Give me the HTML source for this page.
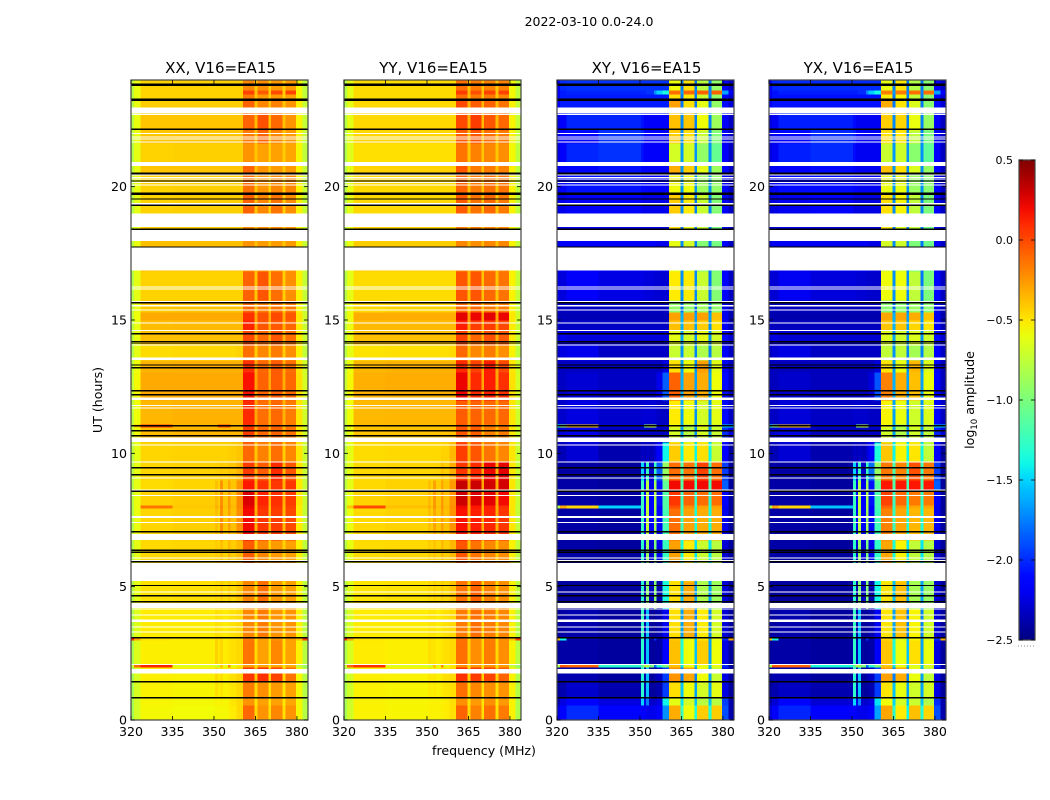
<!DOCTYPE html>
<html lang="en">
<head>
<meta charset="utf-8">
<title>2022-03-10 0.0-24.0</title>
<style>
html,body{margin:0;padding:0;background:#fff;width:1050px;height:800px;overflow:hidden}
svg{display:block}
text{font-family:"DejaVu Sans","Liberation Sans",sans-serif;fill:#000}
</style>
</head>
<body>
<svg id="chart" xmlns="http://www.w3.org/2000/svg" width="1050" height="800" viewBox="0 0 1050 800">
<text x="589" y="26" font-size="12.5" text-anchor="middle">2022-03-10 0.0-24.0</text>
<text x="102" y="400" font-size="12.6" text-anchor="middle" transform="rotate(-90 102 400)">UT (hours)</text>
<text x="484" y="755" font-size="12.6" text-anchor="middle">frequency (MHz)</text>
<text x="974" y="400" font-size="12.6" text-anchor="middle" transform="rotate(-90 974 400)">log<tspan font-size="8.5" dy="3">10</tspan><tspan dy="-3"> amplitude</tspan></text>
<defs><linearGradient id="jetGradient" x1="0" y1="1" x2="0" y2="0"></linearGradient></defs>
</svg>
<script>
const panelTitles = ["XX, V16=EA15","YY, V16=EA15","XY, V16=EA15","YX, V16=EA15"];
const freqTicks = [320,335,350,365,380];
const hourTicks = [0,5,10,15,20];
const colorTicks = [-2.5,-2,-1.5,-1,-0.5,0,0.5];
const freqEdges = [320,321,323.5,335,350.4,351.4,352.2,353.2,355,356,358.2,360.5,364.7,365.7,369.7,370.6,374.8,375.9,379.7,382,384];
const timeEdges = [0,0.56,0.83,1.43,1.99,2.10,3.00,3.11,4.20,5.21,5.89,6.75,7.95,8.06,8.59,9.00,9.68,10.43,10.99,11.10,12.00,13.05,13.50,14.06,14.63,15.00,15.30,15.75,16.84,18.38,18.98,19.73,20.48,20.93,21.64,22.13,22.76,23.25,23.48,23.63,24];
const flaggedRanges = [[22.75,22.96],[22.68,22.72],[21.98,22.02],[21.85,21.89],[21.76,21.80],[21.66,21.70],[20.78,20.93],[20.41,20.45],[20.33,20.37],[20.26,20.30],[20.13,20.17],[20.05,20.09],[19.34,19.38],[18.49,18.99],[17.96,18.37],[16.85,17.71],[16.22,16.26],[16.15,16.19],[15.67,15.71],[15.50,15.56],[15.36,15.40],[14.87,14.91],[14.59,14.63],[14.04,14.08],[13.50,13.59],[12.00,12.09],[11.77,11.81],[11.68,11.72],[10.43,10.59],[10.29,10.33],[9.66,9.70],[9.06,9.10],[8.59,8.64],[8.40,8.44],[7.58,7.65],[7.39,7.43],[6.75,6.98],[6.05,6.09],[5.96,6.00],[5.21,5.89],[4.78,4.82],[4.20,4.39],[4.14,4.18],[3.92,3.96],[3.68,3.77],[3.47,3.51],[3.28,3.32],[2.06,2.10],[1.79,1.91],[1.74,1.78]];
const blackRanges = [[23.78,23.87],[23.21,23.30],[22.13,22.18],[20.46,20.53],[20.19,20.24],[19.68,19.79],[19.51,19.56],[19.28,19.33],[18.38,18.43],[17.71,17.76],[15.62,15.67],[14.46,14.51],[14.17,14.22],[14.13,14.16],[13.29,13.34],[13.18,13.23],[12.32,12.37],[12.17,12.22],[11.01,11.06],[10.82,10.87],[10.63,10.68],[9.43,9.48],[9.17,9.22],[8.55,8.60],[7.03,7.08],[6.34,6.39],[6.26,6.31],[5.91,5.96],[5.02,5.07],[4.63,4.68],[4.41,4.46],[3.06,3.11],[1.41,1.46],[0.81,0.86]];

/* log10 amplitude x 100; rows bottom-to-top follow timeEdges, columns follow freqEdges */
const xxValues = [
[-85,-68,-56,-57,-56,-56,-56,-56,-54,-52,-46,-10,-46,-24,-48,-20,-48,-24,-56,-80],
[-85,-68,-55,-56,-54,-55,-54,-55,-53,-50,-46,-24,-48,-28,-50,-28,-50,-30,-56,-80],
[-84,-67,-54,-55,-48,-53,-50,-54,-52,-50,-46,-16,-46,-22,-48,-26,-50,-28,-56,-80],
[-84,-66,-53,-54,-46,-52,-48,-53,-50,-48,-44,6,-40,8,-44,2,-46,-14,-56,-80],
[-70,-10,12,-62,-70,-70,-40,-60,-20,-60,-50,-27,-48,-30,-50,-30,-50,-32,-75,-90],
[-83,-65,-53,-53,-44,-50,-46,-52,-50,-48,-46,-14,-46,-28,-48,-20,-48,-28,-54,-78],
[12,-30,-50,-52,-44,-50,-46,-52,-50,-48,-46,-16,-46,-28,-48,-24,-48,-28,-40,5],
[-82,-64,-52,-52,-48,-50,-50,-52,-50,-48,-46,-20,-48,-16,-48,-24,-48,-24,-54,-78],
[-80,-62,-49,-48,-46,-48,-42,-47,-42,-46,-40,-20,-46,-12,-48,-26,-48,-28,-54,-76],
[-80,-62,-48,-47,-44,-46,-40,-46,-40,-44,-38,-20,-44,-16,-46,-28,-46,-28,-54,-76],
[-80,-62,-46,-45,-42,-44,-38,-44,-36,-42,-36,-6,-42,-20,-44,-26,-44,-28,-54,-76],
[-80,-60,-45,-43,-38,-43,-22,-40,-28,-38,-22,20,-32,6,-36,4,-36,0,-52,-74],
[-78,-60,-14,-41,-32,-40,-20,-38,-26,-36,-20,22,-32,8,-36,6,-36,2,-52,-74],
[-78,-60,-44,-42,-36,-42,-22,-40,-26,-38,-20,26,-30,12,-34,8,-34,4,-50,-72],
[-78,-62,-47,-45,-38,-44,-24,-42,-30,-40,-24,16,-32,8,-34,6,-34,6,-52,-74],
[-78,-62,-45,-44,-43,-43,-41,-42,-40,-40,-34,4,-34,-6,-36,10,-36,-4,-50,-72],
[-78,-62,-45,-44,-44,-44,-44,-44,-43,-42,-40,-10,-40,-18,-42,-12,-42,-20,-50,-72],
[-76,-58,-37,-35,-35,-35,-35,-35,-35,-35,-35,4,-32,-10,-34,-8,-34,-14,-50,-70],
[-70,-40,4,-34,-34,0,0,0,0,-34,-34,6,-32,-10,-34,-8,-34,-14,-50,-70],
[-76,-58,-35,-34,-34,-34,-34,-34,-34,-34,-34,10,-30,-12,-34,-10,-34,-16,-50,-70],
[-74,-56,-31,-31,-31,-31,-31,-31,-31,-31,-31,18,-28,-8,-32,-6,-32,-10,-48,-68],
[-76,-58,-34,-33,-33,-33,-33,-33,-33,-33,-33,8,-30,-10,-32,-6,-32,-12,-50,-70],
[-80,-62,-47,-46,-46,-46,-46,-46,-46,-46,-44,-12,-42,-20,-42,-16,-42,-22,-54,-76],
[-78,-60,-38,-38,-38,-38,-38,-38,-38,-38,-38,0,-34,-10,-34,-4,-34,-12,-52,-72],
[-78,-60,-37,-36,-36,-36,-36,-36,-36,-36,-36,12,-32,-4,-34,-5,-34,-10,-52,-72],
[-76,-58,-31,-31,-31,-31,-31,-31,-31,-31,-31,8,-30,-2,-32,0,-32,-4,-50,-70],
[-78,-60,-41,-40,-40,-40,-40,-40,-40,-40,-40,-10,-40,-16,-42,-14,-42,-16,-54,-74],
[-80,-62,-44,-44,-44,-44,-44,-44,-44,-44,-44,-8,-40,-4,-42,-12,-42,-22,-54,-74],
[-78,-60,-38,-38,-38,-38,-38,-38,-38,-38,-38,-24,-38,-27,-40,-27,-40,-26,-54,-74],
[-78,-60,-42,-42,-42,-42,-42,-42,-42,-42,-42,-20,-40,-20,-40,-20,-40,-24,-54,-74],
[-80,-62,-44,-43,-43,-43,-43,-43,-43,-43,-43,-8,-40,-20,-42,-14,-42,-22,-54,-74],
[-78,-60,-44,-43,-43,-43,-43,-43,-43,-43,-43,-12,-40,-24,-42,-20,-42,-20,-54,-74],
[-78,-60,-40,-40,-40,-40,-40,-40,-40,-40,-40,-8,-38,-24,-40,-26,-40,-26,-54,-74],
[-80,-62,-44,-43,-43,-43,-43,-43,-43,-43,-43,-24,-40,-28,-42,-28,-42,-30,-56,-76],
[-78,-60,-40,-39,-39,-39,-39,-39,-39,-39,-39,-16,-38,-8,-40,-20,-40,-26,-54,-74],
[-78,-60,-40,-40,-40,-40,-40,-40,-40,-40,-40,-8,-36,-2,-38,-10,-38,-24,-54,-74],
[-78,-60,-42,-42,-42,-42,-42,-42,-42,-42,-42,-8,-38,-20,-40,-18,-40,-24,-54,-74],
[-78,-60,-44,-44,-44,-44,-44,-44,-44,-44,-44,-16,-40,-26,-42,-26,-42,-28,-56,-76],
[-78,-60,-44,-44,-44,-44,-44,-44,-44,-44,-44,2,-38,-6,-42,0,-42,2,-56,-76],
[-78,-60,-44,-44,-44,-44,-44,-44,-44,-44,-44,-20,-40,-22,-42,-26,-42,-26,-56,-76]
];
const yyValues = [
[-85,-70,-54,-55,-54,-54,-54,-54,-54,-52,-48,-8,-46,-18,-48,-12,-48,-16,-54,-82],
[-85,-70,-54,-55,-54,-54,-54,-54,-54,-52,-48,-22,-48,-26,-50,-22,-50,-26,-54,-82],
[-84,-70,-54,-55,-52,-54,-52,-54,-52,-50,-48,-12,-46,-20,-48,-22,-48,-24,-54,-80],
[-84,-68,-53,-54,-50,-52,-50,-53,-50,-48,-46,8,-42,4,-44,2,-44,-8,-54,-80],
[-70,-10,8,-62,-70,-70,-40,-60,-20,-60,-50,-22,-48,-26,-50,-24,-50,-26,-74,-90],
[-82,-66,-52,-53,-48,-50,-50,-52,-50,-48,-46,-12,-44,-22,-46,-16,-46,-22,-54,-78],
[10,-30,-50,-52,-48,-50,-50,-52,-50,-48,-46,-14,-44,-24,-46,-18,-46,-22,-40,4],
[-82,-66,-52,-52,-50,-50,-50,-52,-50,-48,-46,-16,-46,-12,-46,-16,-46,-20,-54,-78],
[-80,-64,-50,-49,-46,-48,-44,-47,-42,-46,-40,-14,-44,-8,-46,-18,-46,-22,-54,-76],
[-80,-64,-49,-48,-44,-46,-42,-46,-40,-44,-38,-16,-42,-12,-44,-22,-44,-24,-54,-76],
[-80,-62,-47,-46,-42,-45,-40,-44,-36,-42,-36,-4,-40,-14,-42,-20,-42,-22,-54,-76],
[-78,-60,-46,-44,-38,-42,-30,-40,-28,-38,-24,18,-28,14,-32,12,-32,6,-50,-74],
[-78,-40,0,-38,-32,-40,-24,-38,-24,-36,-22,20,-28,16,-32,14,-32,8,-50,-74],
[-78,-60,-44,-42,-36,-42,-26,-40,-26,-38,-24,30,-26,26,-30,24,-30,20,-50,-72],
[-78,-62,-46,-44,-38,-44,-28,-42,-30,-40,-26,32,-26,30,-30,28,-30,28,-50,-74],
[-78,-62,-46,-45,-45,-45,-45,-44,-38,-42,-32,6,-32,10,-34,22,-34,24,-50,-72],
[-78,-62,-47,-46,-46,-46,-46,-46,-44,-44,-36,4,-34,-4,-38,-14,-38,-20,-50,-72],
[-78,-60,-40,-39,-39,-39,-39,-39,-39,-39,-38,-4,-34,-6,-36,-18,-36,-16,-50,-70],
[-76,-60,-38,-38,-38,-38,-38,-38,-38,-38,-38,-4,-34,-6,-36,-16,-36,-14,-50,-70],
[-76,-58,-36,-35,-35,-35,-35,-35,-35,-35,-35,-6,-32,-8,-34,-10,-34,-10,-50,-70],
[-74,-56,-33,-32,-32,-32,-32,-32,-32,-32,-32,22,-28,10,-30,14,-30,8,-48,-68],
[-76,-58,-35,-34,-34,-34,-34,-34,-34,-34,-34,10,-28,2,-30,14,-30,0,-50,-70],
[-80,-62,-49,-48,-48,-48,-48,-48,-48,-48,-46,-10,-40,-20,-40,-16,-40,-22,-54,-76],
[-78,-60,-38,-38,-38,-38,-38,-38,-38,-38,-38,2,-34,-10,-34,-2,-34,-6,-52,-72],
[-78,-60,-36,-36,-36,-36,-36,-36,-36,-36,-36,14,-30,4,-32,4,-32,0,-52,-72],
[-76,-58,-32,-32,-32,-32,-32,-32,-32,-32,-32,24,-26,22,-28,24,-28,22,-50,-70],
[-78,-60,-46,-44,-44,-44,-44,-44,-44,-44,-44,-10,-40,-10,-40,-16,-40,-16,-54,-74],
[-80,-62,-47,-47,-47,-47,-47,-47,-47,-47,-47,-4,-38,-4,-40,-10,-40,-14,-54,-74],
[-78,-60,-42,-42,-42,-42,-42,-42,-42,-42,-42,-20,-36,-22,-38,-20,-38,-20,-54,-74],
[-80,-62,-44,-44,-44,-44,-44,-44,-44,-44,-44,-16,-38,-16,-38,-18,-38,-20,-54,-76],
[-80,-62,-46,-46,-46,-46,-46,-46,-46,-46,-46,-6,-38,-14,-40,-10,-40,-16,-54,-76],
[-80,-62,-46,-46,-46,-46,-46,-46,-46,-46,-46,-8,-38,-16,-40,-12,-40,-14,-54,-76],
[-80,-62,-44,-44,-44,-44,-44,-44,-44,-44,-44,-4,-36,-16,-38,-16,-38,-18,-54,-76],
[-82,-64,-48,-48,-48,-48,-48,-48,-48,-48,-48,-14,-40,-18,-40,-20,-40,-22,-56,-76],
[-80,-62,-45,-45,-45,-45,-45,-45,-45,-45,-45,-6,-36,-4,-38,-12,-38,-16,-54,-74],
[-80,-62,-46,-46,-46,-46,-46,-46,-46,-46,-46,0,-34,4,-36,-4,-36,-10,-54,-74],
[-80,-62,-46,-46,-46,-46,-46,-46,-46,-46,-46,0,-34,-6,-36,-8,-36,-14,-54,-74],
[-80,-62,-47,-47,-47,-47,-47,-47,-47,-47,-47,-12,-38,-16,-40,-16,-40,-20,-56,-76],
[-80,-62,-47,-47,-47,-47,-47,-47,-47,-47,-47,4,-36,-2,-40,2,-40,2,-56,-76],
[-80,-62,-47,-47,-47,-47,-47,-47,-47,-47,-47,-12,-38,-16,-40,-18,-40,-18,-56,-76]
];
const xyValues = [
[-225,-215,-200,-212,-218,-218,-222,-222,-222,-215,-170,-32,-125,-58,-135,-42,-135,-42,-190,-238],
[-238,-225,-212,-225,-150,-222,-175,-230,-230,-225,-140,-62,-145,-68,-155,-78,-155,-78,-195,-238],
[-242,-238,-230,-238,-130,-238,-155,-242,-242,-238,-195,-48,-155,-58,-165,-68,-165,-62,-225,-242],
[-242,-238,-238,-242,-130,-238,-155,-242,-238,-232,-195,-24,-175,-30,-175,-58,-165,-72,-225,-242],
[-80,-5,-10,-130,-110,-80,-80,-100,-180,-130,-100,-38,-145,-58,-155,-62,-155,-62,-200,-242],
[-242,-240,-240,-242,-130,-238,-155,-242,-242,-240,-215,-38,-135,-58,-155,-42,-165,-58,-225,-242],
[-40,-140,-238,-242,-125,-238,-155,-242,-200,-240,-215,-42,-135,-62,-155,-52,-165,-62,-200,-30],
[-242,-240,-238,-242,-125,-238,-155,-242,-242,-238,-220,-48,-165,-32,-175,-52,-175,-68,-228,-242],
[-242,-242,-242,-242,-130,-238,-95,-232,-95,-238,-135,-48,-155,-32,-165,-82,-165,-88,-228,-242],
[-242,-242,-242,-242,-130,-238,-95,-232,-95,-238,-135,-52,-155,-48,-165,-82,-165,-88,-228,-242],
[-240,-240,-240,-242,-130,-228,-90,-228,-100,-222,-125,-28,-135,-52,-145,-72,-145,-78,-228,-242],
[-240,-240,-240,-242,-125,-215,-75,-215,-85,-212,-120,-12,-125,-28,-135,-32,-135,-32,-222,-242],
[-80,-30,-45,-150,-125,-215,-70,-215,-80,-212,-115,-2,-125,-22,-130,-28,-130,-28,-222,-242],
[-240,-240,-240,-242,-125,-215,-75,-215,-80,-208,-115,6,-125,-8,-130,-12,-130,-12,-218,-242],
[-240,-240,-240,-242,-125,-220,-80,-222,-85,-208,-110,20,-115,20,-120,20,-120,20,-185,-242],
[-240,-240,-240,-242,-150,-228,-125,-230,-125,-185,-90,-12,-120,-14,-125,2,-125,-12,-195,-242],
[-238,-235,-228,-238,-232,-235,-232,-235,-228,-215,-140,-42,-140,-52,-140,-48,-140,-72,-215,-242],
[-232,-226,-222,-232,-232,-232,-232,-232,-232,-232,-232,-68,-165,-78,-170,-68,-170,-72,-200,-225],
[-130,-90,-40,-228,-228,-100,-85,-70,-85,-228,-228,-58,-160,-82,-170,-62,-170,-72,-150,-150],
[-230,-230,-225,-230,-228,-228,-228,-228,-228,-232,-232,-52,-165,-58,-170,-68,-170,-62,-210,-232],
[-232,-232,-228,-232,-232,-232,-232,-232,-232,-222,-185,-8,-160,-28,-165,-32,-165,-58,-210,-232],
[-232,-232,-232,-232,-232,-232,-232,-232,-232,-232,-224,-48,-165,-58,-170,-28,-170,-62,-218,-232],
[-230,-225,-222,-232,-232,-232,-232,-232,-232,-232,-232,-72,-170,-72,-175,-82,-175,-78,-215,-232],
[-226,-222,-226,-226,-226,-226,-226,-226,-226,-226,-226,-62,-165,-68,-170,-62,-170,-68,-210,-228],
[-232,-232,-232,-232,-232,-232,-232,-232,-232,-232,-232,-38,-160,-38,-165,-42,-170,-48,-218,-235],
[-236,-236,-236,-236,-236,-236,-236,-236,-236,-236,-236,-28,-160,-28,-165,-28,-165,-38,-222,-238],
[-232,-232,-232,-232,-232,-232,-232,-232,-232,-232,-232,-92,-180,-92,-182,-88,-182,-92,-222,-235],
[-226,-226,-218,-224,-224,-226,-226,-226,-228,-228,-228,-52,-170,-52,-172,-72,-178,-97,-212,-232],
[-224,-218,-218,-218,-218,-218,-218,-218,-218,-222,-222,-62,-172,-68,-175,-97,-178,-102,-218,-232],
[-226,-226,-222,-226,-226,-226,-226,-226,-226,-226,-226,-48,-178,-62,-178,-72,-178,-102,-222,-232],
[-224,-222,-218,-212,-222,-222,-222,-222,-222,-222,-222,-42,-172,-52,-175,-72,-175,-97,-218,-232],
[-222,-218,-208,-208,-212,-212,-218,-218,-218,-218,-218,-58,-168,-58,-170,-88,-170,-92,-214,-232],
[-222,-218,-212,-208,-212,-218,-218,-218,-218,-218,-218,-32,-168,-42,-172,-62,-172,-88,-214,-232],
[-224,-218,-202,-198,-208,-218,-218,-218,-218,-218,-218,-68,-168,-68,-170,-92,-170,-108,-218,-232],
[-224,-218,-212,-198,-202,-212,-212,-218,-218,-218,-218,-42,-172,-48,-175,-72,-175,-98,-218,-232],
[-224,-218,-202,-202,-208,-218,-218,-218,-218,-218,-218,-38,-172,-40,-175,-58,-175,-88,-218,-232],
[-218,-205,-205,-205,-205,-205,-205,-205,-205,-205,-205,-28,-178,-48,-178,-62,-178,-92,-210,-228],
[-218,-205,-205,-205,-205,-205,-205,-205,-205,-205,-205,-48,-178,-52,-178,-72,-178,-92,-212,-228],
[-218,-205,-202,-202,-202,-202,-198,-198,-170,-150,-135,-12,-165,-10,-172,-8,-172,-8,-165,-218],
[-218,-200,-198,-198,-198,-198,-198,-198,-198,-198,-198,-58,-178,-48,-178,-78,-178,-92,-218,-232]
];
const yxValues = [
[-228,-218,-202,-215,-218,-220,-222,-222,-222,-215,-165,-30,-130,-52,-140,-38,-135,-45,-190,-238],
[-238,-228,-212,-228,-148,-222,-172,-230,-230,-225,-145,-58,-150,-68,-155,-72,-155,-80,-200,-238],
[-242,-238,-232,-238,-128,-238,-152,-242,-242,-238,-195,-50,-155,-60,-165,-70,-165,-68,-225,-242],
[-242,-238,-238,-242,-128,-238,-152,-242,-238,-232,-195,-28,-175,-32,-175,-60,-165,-75,-225,-242],
[-80,-5,-8,-135,-110,-82,-82,-100,-180,-130,-100,-40,-145,-60,-155,-65,-155,-65,-200,-242],
[-242,-240,-240,-242,-128,-238,-152,-242,-242,-240,-215,-40,-135,-60,-155,-48,-165,-60,-225,-242],
[-42,-140,-238,-242,-125,-238,-155,-242,-200,-240,-215,-45,-135,-65,-155,-55,-165,-65,-200,-32],
[-242,-240,-238,-242,-125,-238,-155,-242,-242,-238,-220,-50,-165,-38,-175,-55,-175,-70,-228,-242],
[-242,-242,-242,-242,-128,-238,-98,-232,-98,-238,-138,-50,-155,-38,-165,-85,-165,-90,-228,-242],
[-242,-242,-242,-242,-128,-238,-98,-232,-98,-238,-138,-55,-155,-50,-165,-85,-165,-90,-228,-242],
[-240,-240,-240,-242,-128,-228,-92,-228,-102,-222,-128,-30,-135,-55,-145,-75,-145,-80,-228,-242],
[-240,-240,-240,-242,-125,-215,-78,-215,-88,-212,-122,-18,-125,-30,-135,-35,-135,-35,-222,-242],
[-80,-28,-45,-155,-125,-215,-72,-215,-82,-212,-118,-8,-125,-25,-130,-30,-130,-30,-222,-242],
[-240,-240,-240,-242,-125,-215,-78,-215,-82,-208,-118,2,-125,-10,-130,-15,-130,-15,-218,-242],
[-240,-240,-240,-242,-125,-220,-82,-222,-88,-208,-112,16,-115,16,-120,16,-120,16,-185,-242],
[-240,-240,-240,-242,-150,-228,-125,-230,-125,-180,-90,-15,-120,-18,-125,-2,-125,-15,-195,-242],
[-238,-235,-228,-238,-232,-235,-232,-235,-228,-212,-135,-40,-140,-55,-140,-50,-140,-75,-215,-242],
[-234,-228,-224,-234,-234,-234,-234,-234,-234,-232,-232,-70,-165,-80,-170,-70,-170,-75,-202,-228],
[-130,-90,-40,-230,-230,-100,-85,-72,-85,-230,-230,-60,-160,-85,-170,-65,-170,-75,-150,-150],
[-232,-232,-227,-232,-230,-230,-230,-230,-230,-232,-232,-55,-165,-60,-170,-70,-170,-65,-212,-232],
[-234,-234,-230,-234,-234,-234,-234,-234,-234,-226,-188,-18,-160,-32,-165,-38,-165,-60,-212,-234],
[-234,-234,-234,-234,-234,-234,-234,-234,-234,-234,-226,-50,-165,-60,-170,-35,-170,-65,-218,-234],
[-232,-228,-224,-232,-232,-232,-232,-232,-232,-232,-232,-75,-170,-75,-175,-85,-175,-80,-215,-232],
[-228,-224,-228,-228,-228,-228,-228,-228,-228,-228,-228,-65,-165,-70,-170,-65,-170,-70,-210,-228],
[-234,-234,-234,-234,-234,-234,-234,-234,-234,-234,-234,-40,-160,-40,-165,-45,-170,-50,-218,-235],
[-238,-238,-238,-238,-238,-238,-238,-238,-238,-238,-238,-30,-160,-30,-165,-32,-165,-40,-222,-238],
[-234,-234,-234,-234,-234,-234,-234,-234,-234,-234,-234,-95,-180,-95,-182,-90,-182,-95,-222,-235],
[-228,-228,-220,-226,-226,-228,-228,-228,-230,-230,-230,-58,-170,-58,-172,-75,-178,-100,-212,-232],
[-226,-220,-220,-220,-220,-220,-220,-220,-220,-224,-224,-68,-172,-70,-175,-100,-178,-105,-218,-232],
[-228,-228,-224,-228,-228,-228,-228,-228,-228,-228,-228,-52,-178,-65,-178,-75,-178,-105,-222,-232],
[-226,-224,-220,-214,-224,-224,-224,-224,-224,-224,-224,-48,-172,-55,-175,-75,-175,-100,-218,-232],
[-224,-220,-210,-210,-214,-214,-220,-220,-220,-220,-220,-60,-168,-60,-170,-90,-170,-95,-214,-232],
[-224,-220,-214,-210,-214,-220,-220,-220,-220,-220,-220,-38,-168,-48,-172,-65,-172,-90,-214,-232],
[-226,-220,-204,-200,-210,-220,-220,-220,-220,-220,-220,-72,-168,-70,-170,-95,-170,-110,-218,-232],
[-226,-220,-214,-200,-204,-214,-214,-220,-220,-220,-220,-48,-172,-50,-175,-75,-175,-100,-218,-232],
[-226,-220,-204,-204,-210,-220,-220,-220,-220,-220,-220,-42,-172,-45,-175,-60,-175,-90,-218,-232],
[-220,-208,-208,-208,-208,-208,-208,-208,-208,-208,-208,-32,-178,-50,-178,-65,-178,-95,-210,-228],
[-220,-208,-208,-208,-208,-208,-208,-208,-208,-208,-208,-52,-178,-55,-178,-75,-178,-95,-212,-228],
[-220,-208,-204,-204,-204,-204,-200,-200,-172,-152,-138,-18,-165,-15,-172,-12,-172,-12,-165,-218],
[-220,-202,-200,-200,-200,-200,-200,-200,-200,-200,-200,-60,-178,-50,-178,-80,-178,-95,-218,-232]
];
const panelValues = [xxValues, yyValues, xyValues, yxValues];
const panelLeftEdges = [131,344,557,769];
const panelWidth = 177, panelTop = 80, panelBottom = 720;
const barLeft = 1019, barWidth = 16, barTop = 160, barBottom = 640;
const NS = "http://www.w3.org/2000/svg";
const svg = document.getElementById("chart");

function xScale(panelLeft, mhz){ return panelLeft + (mhz - 320) / 64 * panelWidth; }
function yScale(hour){ return panelBottom - hour / 24 * (panelBottom - panelTop); }
function barY(v){ return barBottom - (v + 2.5) / 3 * (barBottom - barTop); }
function ramp(t, pts){
  for (let i = 1; i < pts.length; i++) {
    if (t <= pts[i][0]) {
      const a = pts[i-1], b = pts[i];
      return a[1] + (b[1]-a[1]) * (t-a[0]) / (b[0]-a[0]);
    }
  }
  return pts[pts.length-1][1];
}
function jet(v){
  const t = Math.max(0, Math.min(1, (v + 2.5) / 3));
  const r = ramp(t, [[0,0],[0.35,0],[0.66,1],[0.89,1],[1,0.5]]);
  const g = ramp(t, [[0,0],[0.125,0],[0.375,1],[0.64,1],[0.91,0],[1,0]]);
  const b = ramp(t, [[0,0.5],[0.11,1],[0.34,1],[0.65,0],[1,0]]);
  return "rgb(" + Math.round(r*255) + "," + Math.round(g*255) + "," + Math.round(b*255) + ")";
}
function make(tag, parent, attrs){
  const el = document.createElementNS(NS, tag);
  for (const k in attrs) el.setAttribute(k, attrs[k]);
  parent.appendChild(el);
  return el;
}

panelTitles.forEach(function(title, p){
  const left = panelLeftEdges[p];
  const group = make("g", svg, {"shape-rendering":"crispEdges"});
  
  

  panelValues[p].forEach(function(row, r){
    row.forEach(function(v, c){
      const x0 = xScale(left, freqEdges[c]), x1 = xScale(left, freqEdges[c+1]);
      const y0 = yScale(timeEdges[r+1]), y1 = yScale(timeEdges[r]);
      const cell = make("rect", group, {x:x0, y:y0, width:x1-x0+0.4, height:y1-y0+0.4, fill:jet(v/100)});
      
      
    });
  });

  flaggedRanges.forEach(function(range){
    const gap = make("rect", group, {x:left, y:yScale(range[1]), width:panelWidth, height:Math.max(1, yScale(range[0])-yScale(range[1])), fill:"#fff"});
    
    
  });
  blackRanges.forEach(function(range){
    const band = make("rect", group, {x:left, y:yScale(range[1]), width:panelWidth, height:Math.max(1, yScale(range[0])-yScale(range[1])), fill:"#000"});
    
    
  });

  const frame = make("rect", svg, {x:left, y:panelTop, width:panelWidth, height:panelBottom-panelTop, fill:"none", stroke:"#444", "stroke-width":1.2});
  
  

  const heading = make("text", svg, {x:left+panelWidth/2+1, y:73, "font-size":15, "text-anchor":"middle"});
  heading.textContent = title;
  
  

  freqTicks.forEach(function(f){
    const x = xScale(left, f);
    [[panelBottom, panelBottom-4],[panelTop, panelTop+4]].forEach(function(seg){
      const tick = make("line", svg, {x1:x, x2:x, y1:seg[0], y2:seg[1], stroke:"#000", "stroke-width":0.8});
      
      
    });
    const label = make("text", svg, {x:x, y:736, "font-size":12.6, "text-anchor":"middle"});
    label.textContent = f;
    
    
  });
  hourTicks.forEach(function(h){
    const y = yScale(h);
    [[left, left+4],[left+panelWidth, left+panelWidth-4]].forEach(function(seg){
      const tick = make("line", svg, {x1:seg[0], x2:seg[1], y1:y, y2:y, stroke:"#000", "stroke-width":0.8});
      
      
    });
    const label = make("text", svg, {x:left-4, y:y+4.5, "font-size":12.6, "text-anchor":"end"});
    label.textContent = h;
    
    
  });
});

const gradient = document.getElementById("jetGradient");
for (let i = 0; i <= 30; i++) {
  make("stop", gradient, {offset:(i/30), "stop-color":jet(-2.5 + 3*i/30)});
}
const bar = make("rect", svg, {x:barLeft, y:barTop, width:barWidth, height:barBottom-barTop, fill:"url(#jetGradient)", stroke:"#444", "stroke-width":1.2});


colorTicks.forEach(function(v){
  const y = barY(v);
  [[barLeft, barLeft+4],[barLeft+barWidth, barLeft+barWidth-4]].forEach(function(seg){
    const tick = make("line", svg, {x1:seg[0], x2:seg[1], y1:y, y2:y, stroke:"#000", "stroke-width":0.8});
    
    
  });
  const label = make("text", svg, {x:barLeft-6, y:y+4, "font-size":11, "text-anchor":"end"});
  label.textContent = v.toFixed(1).replace("-", "\u2212");
  
  
});
const dots = make("line", svg, {x1:1018, x2:1035, y1:646, y2:646, stroke:"#888", "stroke-width":1, "stroke-dasharray":"1 2"});


</script>
</body>
</html>
